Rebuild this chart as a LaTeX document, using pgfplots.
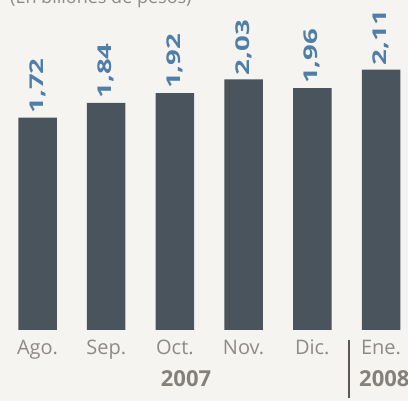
\documentclass[border=0pt]{standalone}
\usepackage{pgfplots}
\pgfplotsset{compat=1.18}
\usepackage{fontspec}
\setmainfont{Open Sans}
\definecolor{paper}{HTML}{F6F4F0}
\definecolor{barc}{HTML}{4A545D}
\definecolor{valc}{HTML}{4F7EA8}
\definecolor{tickc}{HTML}{8E8A87}
\definecolor{yearc}{HTML}{85807C}
\definecolor{sepc}{HTML}{5E5755}
\begin{document}
\begin{tikzpicture}
\useasboundingbox (0,-71pt) rectangle (408pt,330pt);
\fill[paper] (0,-71pt) rectangle (408pt,330pt);
\node[anchor=base west, inner sep=0pt, text=tickc, font=\fontsize{18}{20}\selectfont] at (10pt,326pt) {(En billones de pesos)};
\begin{axis}[
  at={(0pt,0pt)}, anchor=south west,
  scale only axis, width=408pt, height=330pt,
  xmin=-0.546, xmax=5.393, ymin=0, ymax=2.674,
  axis line style={draw=none},
  major tick length=0pt,
  ytick=\empty,
  xtick={0,1,2,3,4,5},
  xticklabels={Ago.,Sep.,Oct.,Nov.,Dic.,Ene.},
  xticklabel style={anchor=base, inner sep=0pt, yshift=-25pt, text=tickc, font=\fontsize{20}{22}\selectfont},
  /pgf/number format/assume math mode=true,
  clip=false,
  ybar, bar width=38.5pt,
  nodes near coords={\scalebox{1.45}[1]{\pgfmathprintnumber[fixed,fixed zerofill,precision=2,use comma]{\pgfplotspointmeta}}},
  nodes near coords style={rotate=90, anchor=west, inner xsep=4pt, inner ysep=0pt, text=valc, font=\fontsize{19}{20}\selectfont\bfseries},
]
\addplot[fill=barc, draw=none] coordinates {(0,1.72) (1,1.84) (2,1.92) (3,2.03) (4,1.96) (5,2.11)};
\end{axis}
\draw[sepc, line width=2.2pt] (349pt,-10pt) -- (349pt,-68pt);
\node[anchor=base, inner sep=0pt, text=yearc, font=\fontsize{22}{24}\selectfont\bfseries] at (186pt,-57pt) {2007};
\node[anchor=base west, inner sep=0pt, text=yearc, font=\fontsize{22}{24}\selectfont\bfseries] at (359pt,-57pt) {2008};
\end{tikzpicture}
\end{document}
